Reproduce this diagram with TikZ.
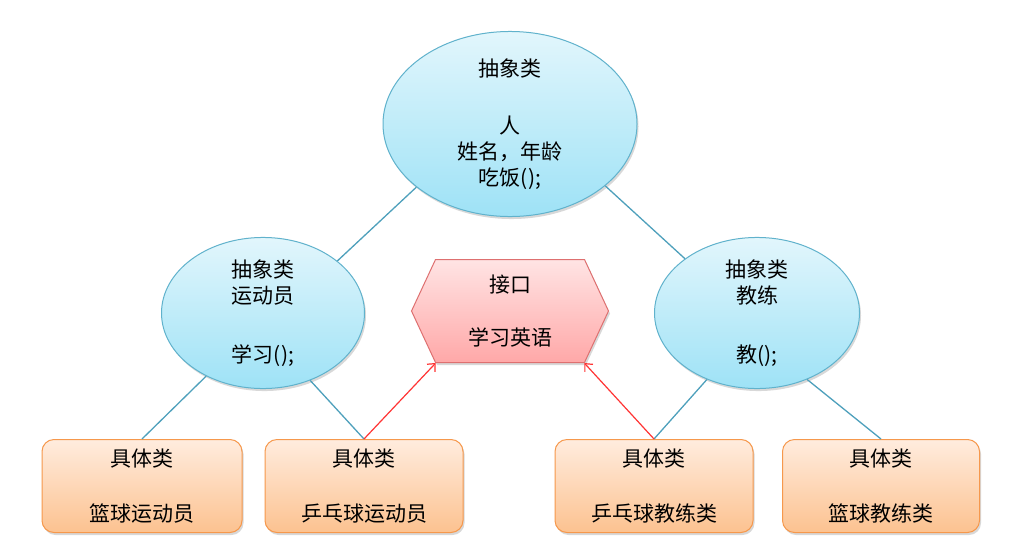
\documentclass[tikz,border=0pt]{standalone}
\usepackage{fontspec}
\setmainfont{Noto Sans CJK SC}
\usetikzlibrary{shapes.geometric, shapes.symbols, positioning, arrows, arrows.meta, shadows}
\definecolor{ovalline}{RGB}{96,178,204}
\definecolor{ovaltop}{RGB}{226,246,252}
\definecolor{ovalbot}{RGB}{158,226,246}
\definecolor{hexline}{RGB}{222,112,112}
\definecolor{hextop}{RGB}{255,228,228}
\definecolor{hexbot}{RGB}{255,168,168}
\definecolor{boxline}{RGB}{246,152,76}
\definecolor{boxtop}{RGB}{255,236,222}
\definecolor{boxbot}{RGB}{252,194,144}
\definecolor{linkcol}{RGB}{78,160,188}
\definecolor{arrowcol}{RGB}{255,52,52}
\tikzset{
    >={Straight Barb[length=6pt, width=11pt]}, % open arrow heads for the interface links
    on grid, % relative distances are measured centre to centre
    every node/.style={font=\fontsize{21}{26}\selectfont, align=center},
    softshadow/.style={drop shadow={shadow xshift=1.5pt, shadow yshift=-2.5pt, opacity=.25, fill=black!60}},
    abstractclass/.style={ellipse, draw=ovalline, line width=1pt, top color=ovaltop, bottom color=ovalbot, inner sep=0pt, softshadow},
    concreteclass/.style={rectangle, rounded corners=12pt, draw=boxline, line width=1pt, top color=boxtop, bottom color=boxbot, minimum width=198pt, minimum height=93pt, softshadow},
    ifacebox/.style={signal, signal to=west and east, signal pointer angle=130, draw=hexline, line width=1pt, top color=hextop, bottom color=hexbot, minimum width=197pt, minimum height=103pt, inner sep=0pt, softshadow},
    linkline/.style={draw=linkcol, line width=1.3pt},
    realize/.style={->, draw=arrowcol, line width=1.2pt},
}
\begin{document}
\begin{tikzpicture}[x=1pt, y=-1pt]
\useasboundingbox[fill=white] (0,0) rectangle (1014,549);
% abstract classes
\node[abstractclass, minimum width=254pt, minimum height=162pt] (person) at (510,124) {抽象类\\[31pt]人\\姓名，年龄\\吃饭();};
\node[abstractclass, minimum width=203pt, minimum height=130pt, below left=189pt and 247pt of person] (athlete) {抽象类\\运动员\\[33pt]学习();};
\node[abstractclass, minimum width=205pt, minimum height=133pt, below right=189pt and 247pt of person] (coach) {抽象类\\教练\\[33pt]教();};
% interface
\node[ifacebox, below=187pt of person] (english) {接口\\[27pt]学习英语};
% concrete classes
\node[concreteclass, minimum width=200pt, below left=173pt and 121pt of athlete] (bball) {具体类\\[29pt]篮球运动员};
\node[concreteclass, below right=173pt and 101pt of athlete] (pingpong) {具体类\\[29pt]乒乓球运动员};
\node[concreteclass, below left=173pt and 103pt of coach] (ppcoach) {具体类\\[29pt]乒乓球教练类};
\node[concreteclass, minimum width=197pt, below right=173pt and 124pt of coach] (bcoach) {具体类\\[29pt]篮球教练类};
\draw[linkline]
    (person.214) -- (athlete.35)
    (person.327) -- (coach.143)
    (athlete.228) -- (bball.north)
    (athlete.305) -- (pingpong.north)
    (coach.233) -- (ppcoach.north)
    (coach.307) -- (bcoach.north);
\draw[realize] (pingpong.north) -- (english.215);
\draw[realize] (ppcoach.north) -- (english.325);
\end{tikzpicture}
\end{document}
